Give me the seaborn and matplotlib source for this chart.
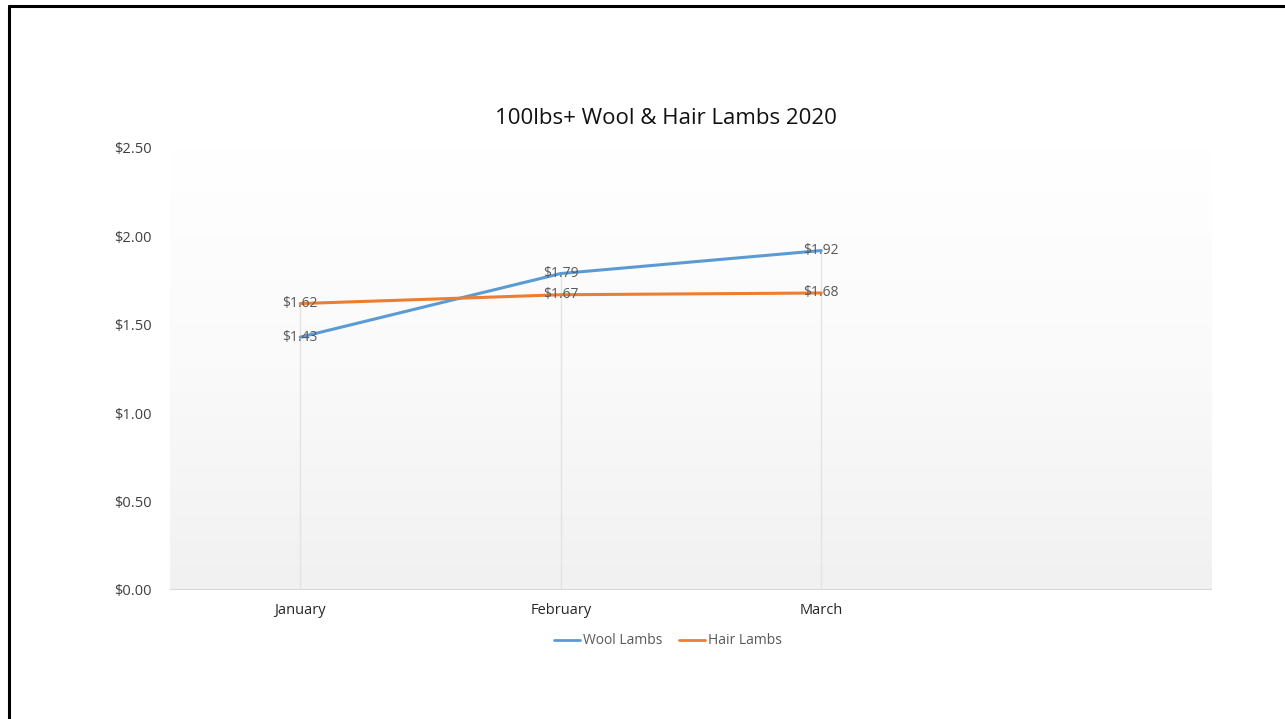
import numpy as np
import pandas as pd
import seaborn as sns
from matplotlib import pyplot as plt
from matplotlib.colors import LinearSegmentedColormap
from matplotlib.lines import Line2D

sns.set_style('white')
plt.rcParams['font.family'] = ['Open Sans', 'DejaVu Sans']

months = ['January', 'February', 'March']
wool = [1.43, 1.79, 1.92]
hair = [1.62, 1.67, 1.68]
series_names = ['Wool Lambs', 'Hair Lambs']
colors = ['#5B9BD5', '#ED7D31']
yticks = [0.0, 0.5, 1.0, 1.5, 2.0, 2.5]

df = pd.DataFrame({
    'month': months * 2,
    'price': wool + hair,
    'series': [series_names[0]] * 3 + [series_names[1]] * 3,
})

fig = plt.figure(figsize=(12.85, 7.19), dpi=100)
ax = fig.add_axes([170 / 1285, 1 - 590 / 719, 1042 / 1285, 442 / 719])

# plot area gradient (white at top -> light grey at bottom)
grad = np.linspace(1, 0, 256).reshape(-1, 1)
cmap = LinearSegmentedColormap.from_list('bg', ['#f1f1f1', '#fafafa', '#ffffff'])
ax.imshow(grad, cmap=cmap, extent=[-0.5, 3.5, 0, 2.5], aspect='auto', zorder=0)

# drop lines
tops = np.maximum(wool, hair)
ax.vlines(range(len(months)), 0, tops, color='#e3e3e3', lw=1, zorder=1)
ax.axhline(0, color='#d9d9d9', lw=1.5, zorder=1)

sns.lineplot(data=df, x='month', y='price', hue='series', palette=colors,
             lw=2.2, ax=ax, legend=False, zorder=3)

for vals in (wool, hair):
    for i, v in enumerate(vals):
        ax.text(i, v, f'${v:.2f}', ha='center', va='center', fontsize=10,
                color='#595959', zorder=4)

ax.set_xlim(-0.5, 3.5)
ax.set_ylim(0, 2.5)
ax.set_yticks(yticks)
ax.set_yticklabels([f'${t:.2f}' for t in yticks], fontsize=10.5, color='#404040')
ax.set_xticks(range(len(months)))
ax.set_xticklabels(months, fontsize=10.5, color='#262626')
ax.tick_params(axis='y', length=0, pad=13)
ax.tick_params(axis='x', length=0, pad=9)
ax.set_xlabel('')
ax.set_ylabel('')
for s in ax.spines.values():
    s.set_visible(False)

fig.text(666 / 1285, 1 - 118 / 719, '100lbs+ Wool & Hair Lambs 2020', ha='center',
         va='center', fontsize=16, color='#111111')

handles = [Line2D([0], [0], color=c, lw=2.0) for c in colors]
fig.legend(handles, series_names, loc='center', bbox_to_anchor=(668 / 1285, 1 - 641 / 719),
           ncol=2, frameon=False, fontsize=10, labelcolor='#595959',
           handlelength=1.9, handletextpad=0.2, columnspacing=1.2)

# partial frame: top and left edges
fig.add_artist(Line2D([9 / 1285, 9 / 1285], [0, 1 - 6 / 719], color='black', lw=2.2))
fig.add_artist(Line2D([9 / 1285, 1], [1 - 6 / 719, 1 - 6 / 719], color='black', lw=2.2))

fig.savefig('out.png', dpi=100)
